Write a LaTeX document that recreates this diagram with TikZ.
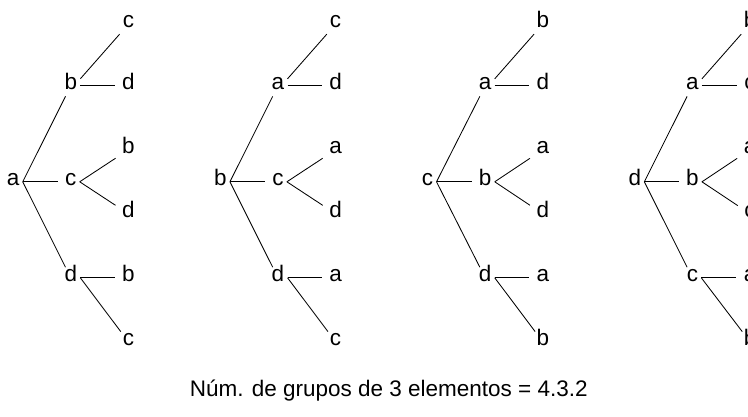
\documentclass[tikz,border=0pt]{standalone}
\usepackage{fontspec}
\setmainfont{Liberation Sans}

\begin{document}
\begin{tikzpicture}[
      lbl/.style={inner sep=0.075cm, text height=1ex, text depth=0pt, font=\fontsize{16}{19}\selectfont},
      branch/.style={line width=0.6pt, shorten >=0.1cm}
    ]
    \clip (0,0) rectangle (18.7,10.425);
    % tree rooted at a
    \node[lbl] (a) at (0.33,5.88) {a};
    \node[lbl] (ab) at (1.77,8.28) {b};
    \node[lbl] (ac) at (1.77,5.88) {c};
    \node[lbl] (ad) at (1.77,3.48) {d};
    \node[lbl] (abc) at (3.21,9.82) {c};
    \node[lbl] (abd) at (3.21,8.28) {d};
    \node[lbl] (acb) at (3.21,6.68) {b};
    \node[lbl] (acd) at (3.21,5.08) {d};
    \node[lbl] (adb) at (3.21,3.48) {b};
    \node[lbl] (adc) at (3.21,1.88) {c};
    \draw[branch] (a.east) -- (ab);
    \draw[branch] (a.east) -- (ac);
    \draw[branch] (a.east) -- (ad);
    \draw[branch] (ab.north east) -- (abc);
    \draw[branch] (ab.east) -- (abd);
    \draw[branch] (ac.east) -- (acb);
    \draw[branch] (ac.east) -- (acd);
    \draw[branch] (ad.east) -- (adb);
    \draw[branch] (ad.east) -- (adc);
    % tree rooted at b
    \node[lbl] (b) at (5.51,5.88) {b};
    \node[lbl] (ba) at (6.95,8.28) {a};
    \node[lbl] (bc) at (6.95,5.88) {c};
    \node[lbl] (bd) at (6.95,3.48) {d};
    \node[lbl] (bac) at (8.39,9.82) {c};
    \node[lbl] (bad) at (8.39,8.28) {d};
    \node[lbl] (bca) at (8.39,6.68) {a};
    \node[lbl] (bcd) at (8.39,5.08) {d};
    \node[lbl] (bda) at (8.39,3.48) {a};
    \node[lbl] (bdc) at (8.39,1.88) {c};
    \draw[branch] (b.east) -- (ba);
    \draw[branch] (b.east) -- (bc);
    \draw[branch] (b.east) -- (bd);
    \draw[branch] (ba.north east) -- (bac);
    \draw[branch] (ba.east) -- (bad);
    \draw[branch] (bc.east) -- (bca);
    \draw[branch] (bc.east) -- (bcd);
    \draw[branch] (bd.east) -- (bda);
    \draw[branch] (bd.east) -- (bdc);
    % tree rooted at c
    \node[lbl] (c) at (10.69,5.88) {c};
    \node[lbl] (ca) at (12.13,8.28) {a};
    \node[lbl] (cb) at (12.13,5.88) {b};
    \node[lbl] (cd) at (12.13,3.48) {d};
    \node[lbl] (cab) at (13.57,9.82) {b};
    \node[lbl] (cad) at (13.57,8.28) {d};
    \node[lbl] (cba) at (13.57,6.68) {a};
    \node[lbl] (cbd) at (13.57,5.08) {d};
    \node[lbl] (cda) at (13.57,3.48) {a};
    \node[lbl] (cdb) at (13.57,1.88) {b};
    \draw[branch] (c.east) -- (ca);
    \draw[branch] (c.east) -- (cb);
    \draw[branch] (c.east) -- (cd);
    \draw[branch] (ca.north east) -- (cab);
    \draw[branch] (ca.east) -- (cad);
    \draw[branch] (cb.east) -- (cba);
    \draw[branch] (cb.east) -- (cbd);
    \draw[branch] (cd.east) -- (cda);
    \draw[branch] (cd.east) -- (cdb);
    % tree rooted at d, cut at the right edge
    \node[lbl] (d) at (15.87,5.88) {d};
    \node[lbl] (da) at (17.31,8.28) {a};
    \node[lbl] (db) at (17.31,5.88) {b};
    \node[lbl] (dc) at (17.31,3.48) {c};
    \node[lbl] (dab) at (18.75,9.82) {b};
    \node[lbl] (dac) at (18.75,8.28) {c};
    \node[lbl] (dba) at (18.75,6.68) {a};
    \node[lbl] (dbc) at (18.75,5.08) {c};
    \node[lbl] (dca) at (18.75,3.48) {a};
    \node[lbl] (dcb) at (18.75,1.88) {b};
    \draw[branch] (d.east) -- (da);
    \draw[branch] (d.east) -- (db);
    \draw[branch] (d.east) -- (dc);
    \draw[branch] (da.north east) -- (dab);
    \draw[branch] (da.east) -- (dac);
    \draw[branch] (db.east) -- (dba);
    \draw[branch] (db.east) -- (dbc);
    \draw[branch] (dc.east) -- (dca);
    \draw[branch] (dc.east) -- (dcb);
    % caption
    \node[anchor=base, font=\fontsize{16}{19}\selectfont] (total) at (9.72,0.52) {Núm. de grupos de 3 elementos = 4.3.2};
  \end{tikzpicture}
\end{document}
